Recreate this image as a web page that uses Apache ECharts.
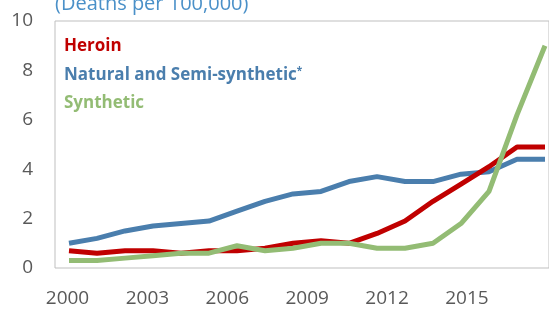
<!DOCTYPE html>
<html><head><meta charset="utf-8">
<script src="https://cdn.jsdelivr.net/npm/echarts@6/dist/echarts.min.js"></script>
<style>html,body{margin:0;padding:0;background:#fff}#c{width:549px;height:309px}</style>
</head><body><div id="c"></div>
<script>
const years = [2000,2001,2002,2003,2004,2005,2006,2007,2008,2009,2010,2011,2012,2013,2014,2015,2016,2017];
const heroin = [0.7,0.6,0.7,0.7,0.6,0.7,0.7,0.8,1.0,1.1,1.0,1.4,1.9,2.7,3.4,4.1,4.9,4.9];
const natural = [1.0,1.2,1.5,1.7,1.8,1.9,2.3,2.7,3.0,3.1,3.5,3.7,3.5,3.5,3.8,3.9,4.4,4.4];
const synthetic = [0.3,0.3,0.4,0.5,0.6,0.6,0.9,0.7,0.8,1.0,1.0,0.8,0.8,1.0,1.8,3.1,6.2,9.0];
const xTickLabels = [2000,2003,2006,2009,2012,2015];
const yTicks = [0,2,4,6,8,10];
const seriesNames = ['Heroin','Natural and Semi-synthetic','Synthetic'];
const titleText = '(Deaths per 100,000)';

const colors = {Heroin:'#C00000','Natural and Semi-synthetic':'#4A7EAD',Synthetic:'#93BC74'};
const font = 'Open Sans';
const pair = arr => years.map((y,i)=>[y,arr[i]]);

const chart = echarts.init(document.getElementById('c'));
chart.setOption({
  animation:false,
  title:{text:titleText,left:50,top:-11,textStyle:{color:'#4A90C8',fontSize:20,fontWeight:'normal',fontFamily:font}},
  grid:{left:55,top:21,right:0,bottom:41,show:true,borderColor:'#BFBFBF',borderWidth:1},
  legend:{
    orient:'vertical',left:54,top:33,itemGap:11,itemWidth:0,itemHeight:0,selectedMode:false,
    data:seriesNames.map(n=>({name:n,icon:'none',textStyle:{color:colors[n]}})),
    formatter:n=> n==='Natural and Semi-synthetic' ? n+'{s|*}' : n,
    textStyle:{fontFamily:font,fontSize:17,fontWeight:'bold',
      rich:{s:{fontSize:10,fontWeight:'bold',color:'#4A7EAD',verticalAlign:'top',padding:[0,0,8,0]}}}
  },
  xAxis:[
    {type:'value',min:1999.5,max:1999.5+494/28,show:false},
    {type:'value',min:1999.531,max:1999.531+494/26.63,position:'bottom',
     axisLine:{show:false},axisTick:{show:false},splitLine:{show:false},
     axisLabel:{customValues:xTickLabels,formatter:v=>String(v),margin:21,color:'#595959',fontSize:19,fontFamily:font}}
  ],
  yAxis:{type:'value',min:0,max:10,interval:2,
    axisLine:{show:false},axisTick:{show:false},splitLine:{show:false},
    axisLabel:{margin:22,color:'#595959',fontSize:19,fontFamily:font}},
  series:[
    {name:'Natural and Semi-synthetic',type:'line',data:pair(natural),symbol:'none',lineStyle:{width:5,color:colors['Natural and Semi-synthetic']},itemStyle:{color:colors['Natural and Semi-synthetic']}},
    {name:'Heroin',type:'line',data:pair(heroin),symbol:'none',lineStyle:{width:5,color:colors.Heroin},itemStyle:{color:colors.Heroin}},
    {name:'Synthetic',type:'line',data:pair(synthetic),symbol:'none',lineStyle:{width:5,color:colors.Synthetic},itemStyle:{color:colors.Synthetic}}
  ]
});
</script></body></html>
